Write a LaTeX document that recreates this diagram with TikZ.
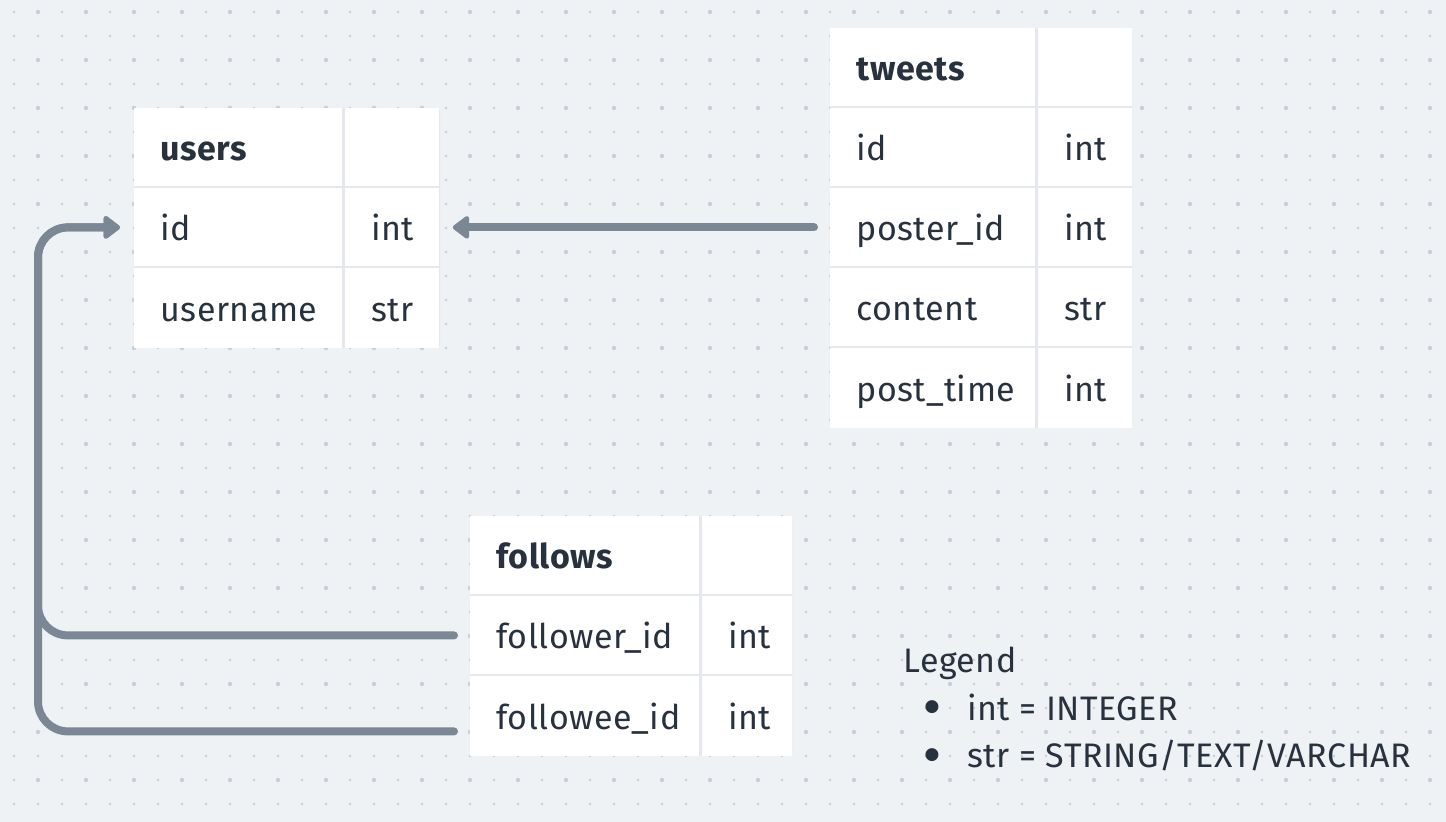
\documentclass[tikz,border=0pt]{standalone}
\usepackage{fontspec}
\setmainfont{Fira Sans}[LetterSpace=1.5]
\newfontfamily\symfont{DejaVu Sans}
\usetikzlibrary{arrows.meta}
\definecolor{bg}{HTML}{EFF2F5}
\definecolor{dotc}{HTML}{C8CED8}
\definecolor{ink}{HTML}{28323E}
\definecolor{conncol}{HTML}{7B8794}
\definecolor{gapc}{HTML}{E4E7EC}
\tikzset{
  tablebg/.style={fill=gapc, rounded corners=1.5pt},
  cell/.style={fill=white, anchor=north west, inner xsep=13pt, inner ysep=0pt, align=left, text=ink, font=\fontsize{17}{19}\selectfont, minimum height=39pt, text height=13pt, text depth=0pt},
  hcell/.style={cell, font=\fontsize{17}{19}\selectfont\bfseries},
  conn/.style={draw=conncol, line width=4pt, line cap=round, line join=round},
  tip/.style={-{Triangle[length=9pt,width=13pt,round]}},
  legendtext/.style={anchor=base west, text=ink, font=\fontsize{17}{19}\selectfont, inner sep=0pt},
  bullet/.style={anchor=center, text=ink, font=\symfont\fontsize{8.5}{10}\selectfont, inner sep=0pt}
}
\begin{document}
\begin{tikzpicture}[x=0.5pt,y=-0.5pt]
\useasboundingbox (0,0) rectangle (1446,822);
\fill[bg] (0,0) rectangle (1446,822);
% dot grid
\foreach \i in {0,...,59}{
  \foreach \j in {0,...,33}{
    \fill[dotc] ({14+24*\i},{12+24*\j}) circle (0.7pt);
  }
}
\foreach \i in {0,...,29}{
  \foreach \j in {0,...,16}{
    \fill[dotc] ({38+48*\i},{12+48*\j}) circle (1.1pt);
  }
}
% ---------- users ----------
\fill[tablebg] (134,108) rectangle (440,348);
\node[hcell, text width=78pt] (u-h1) at (134,108) {users};
\node[cell, text width=21pt] (u-h2) at (345,108) {};
\node[cell, text width=78pt] (u-idn) at (134,188) {id};
\node[cell, text width=21pt] (u-idt) at (345,188) {int};
\node[cell, text width=78pt, minimum height=40pt] (u-unn) at (134,268) {username};
\node[cell, text width=21pt, minimum height=40pt] (u-unt) at (345,268) {str};
% ---------- tweets ----------
\fill[tablebg] (830,28) rectangle (1132,428);
\node[hcell, text width=76.5pt] (t-h1) at (830,28) {tweets};
\node[cell, text width=21pt] (t-h2) at (1038,28) {};
\node[cell, text width=76.5pt] (t-idn) at (830,108) {id};
\node[cell, text width=21pt] (t-idt) at (1038,108) {int};
\node[cell, text width=76.5pt] (t-pidn) at (830,188) {poster\_id};
\node[cell, text width=21pt] (t-pidt) at (1038,188) {int};
\node[cell, text width=76.5pt] (t-cn) at (830,268) {content};
\node[cell, text width=21pt] (t-ct) at (1038,268) {str};
\node[cell, text width=76.5pt, minimum height=40pt] (t-ptn) at (830,348) {post\_time};
\node[cell, text width=21pt, minimum height=40pt] (t-ptt) at (1038,348) {int};
% ---------- follows ----------
\fill[tablebg] (470,516) rectangle (792,756);
\node[hcell, text width=88.5pt] (f-h1) at (470,516) {follows};
\node[cell, text width=19pt] (f-h2) at (702,516) {};
\node[cell, text width=88.5pt] (f-fern) at (470,596) {follower\_id};
\node[cell, text width=19pt] (f-fert) at (702,596) {int};
\node[cell, text width=88.5pt, minimum height=40pt] (f-feen) at (470,676) {followee\_id};
\node[cell, text width=19pt, minimum height=40pt] (f-feet) at (702,676) {int};
% ---------- connectors ----------
\coordinate (bus) at (38,0);
\draw[conn, tip, shorten <=8pt, shorten >=6.5pt] (t-pidn.west) -- (u-idt.east);
\draw[conn, tip, rounded corners=15pt] ([xshift=-8pt]f-fern.west) -| (bus |- u-idn.west) -- ([xshift=-7pt]u-idn.west);
\draw[conn, tip, rounded corners=15pt] ([xshift=-8pt,yshift=-7.5pt]f-feen.west) -| (bus |- u-idn.west) -- ([xshift=-7pt]u-idn.west);
% ---------- legend ----------
\node[legendtext] (lg) at (903,673) {Legend};
\node[bullet] (b1) at (932,707) {●};
\node[legendtext] (l1) at (967,721) {int = INTEGER};
\node[bullet] (b2) at (932,755) {●};
\node[legendtext] (l2) at (967,768) {str = STRING/TEXT/VARCHAR};
\end{tikzpicture}
\end{document}
